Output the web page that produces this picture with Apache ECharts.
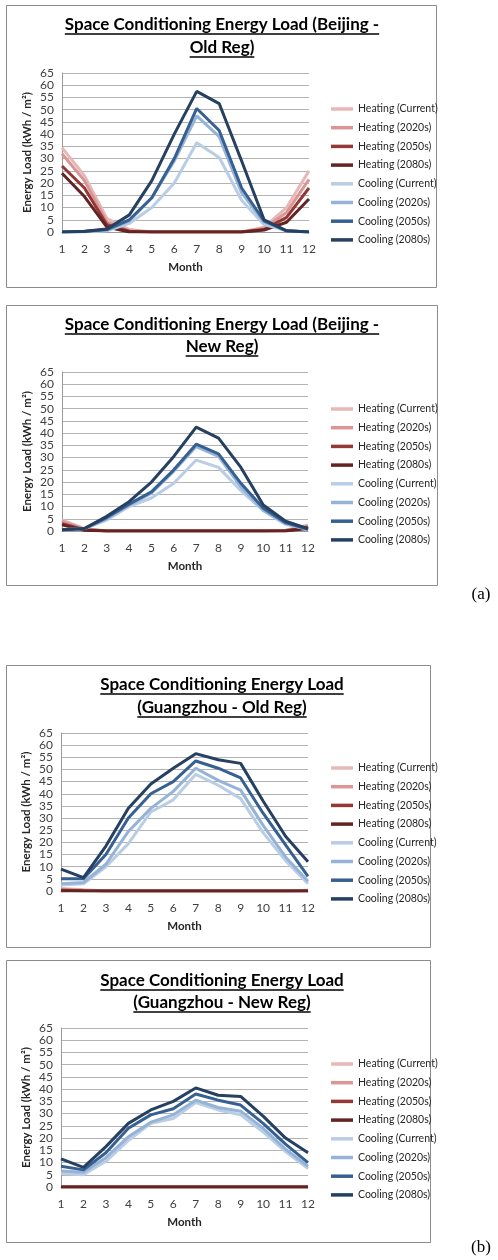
<!DOCTYPE html>
<html>
<head>
<meta charset="UTF-8">
<title>Space Conditioning Energy Load</title>
<script src="https://cdn.jsdelivr.net/npm/echarts@6/dist/echarts.min.js"></script>
<style>
html,body{margin:0;padding:0;background:#fff;}
#main{width:498px;height:1260px;}
</style>
</head>
<body>
<div id="main"></div>
<script>
var months = ['1','2','3','4','5','6','7','8','9','10','11','12'];
var seriesNames = ['Heating (Current)','Heating (2020s)','Heating (2050s)','Heating (2080s)',
                   'Cooling (Current)','Cooling (2020s)','Cooling (2050s)','Cooling (2080s)'];

// Beijing - Old Reg
var bjOldHeatCur  = [34.5, 23, 5.5, 1, 0, 0, 0, 0, 0, 2, 10, 25];
var bjOldHeat2020 = [32, 21, 4, 0.5, 0, 0, 0, 0, 0, 1.5, 8, 21.5];
var bjOldHeat2050 = [27, 18, 3, 0.3, 0, 0, 0, 0, 0, 1, 6, 18];
var bjOldHeat2080 = [24, 14.5, 2, 0, 0, 0, 0, 0, 0, 0.8, 4, 13.5];
var bjOldCoolCur  = [0, 0, 0.5, 3.5, 10, 20, 36.5, 30.5, 13, 3, 0.5, 0];
var bjOldCool2020 = [0, 0.2, 0.8, 4.5, 14, 29, 47.5, 39, 16, 4, 0.5, 0];
var bjOldCool2050 = [0, 0.2, 1, 5, 14, 30, 50.5, 41.5, 18, 4.5, 0.5, 0];
var bjOldCool2080 = [0, 0.3, 1.2, 7, 21, 40, 57.5, 52.5, 29, 5, 0.5, 0];

// Beijing - New Reg
var bjNewHeatCur  = [4.5, 1, 0, 0, 0, 0, 0, 0, 0, 0, 0.3, 2.5];
var bjNewHeat2020 = [4, 0.8, 0, 0, 0, 0, 0, 0, 0, 0, 0.2, 2];
var bjNewHeat2050 = [3, 0.5, 0, 0, 0, 0, 0, 0, 0, 0, 0.1, 1.5];
var bjNewHeat2080 = [2.5, 0.3, 0, 0, 0, 0, 0, 0, 0, 0, 0, 1];
var bjNewCoolCur  = [0.5, 1, 4.5, 10, 13.5, 19.5, 29, 26, 16.5, 8.3, 2.7, 0.7];
var bjNewCool2020 = [0.5, 1, 5, 10.5, 15.5, 24.5, 34.5, 30.5, 18, 8.5, 3, 0.7];
var bjNewCool2050 = [0.5, 1, 5.5, 11, 16, 25, 35.5, 31.5, 19.5, 9.3, 3.4, 0.7];
var bjNewCool2080 = [0.5, 1, 6, 12, 20, 30.5, 42.5, 38, 26, 10.6, 4, 1];

// Guangzhou - Old Reg
var gzOldHeatCur  = [1, 0.5, 0, 0, 0, 0, 0, 0, 0, 0, 0, 0.3];
var gzOldHeat2020 = [0.7, 0.3, 0, 0, 0, 0, 0, 0, 0, 0, 0, 0.2];
var gzOldHeat2050 = [0.3, 0.1, 0, 0, 0, 0, 0, 0, 0, 0, 0, 0];
var gzOldHeat2080 = [0, 0, 0, 0, 0, 0, 0, 0, 0, 0, 0, 0];
var gzOldCoolCur  = [2.5, 3, 10, 19.5, 32.5, 37.5, 48, 43.5, 38, 24, 12.5, 3];
var gzOldCool2020 = [3, 3.5, 11, 24.5, 34, 41, 50.5, 45.5, 41.5, 27, 14, 4];
var gzOldCool2050 = [5, 5, 15, 30, 40, 45, 53.5, 50.5, 46.5, 32, 19, 6];
var gzOldCool2080 = [9, 5.5, 18.5, 34, 44, 50.5, 56.5, 54, 52.5, 37, 22.5, 12];

// Guangzhou - New Reg
var gzNewHeatCur  = [0, 0, 0, 0, 0, 0, 0, 0, 0, 0, 0, 0];
var gzNewHeat2020 = [0, 0, 0, 0, 0, 0, 0, 0, 0, 0, 0, 0];
var gzNewHeat2050 = [0, 0, 0, 0, 0, 0, 0, 0, 0, 0, 0, 0];
var gzNewHeat2080 = [0, 0, 0, 0, 0, 0, 0, 0, 0, 0, 0, 0];
var gzNewCoolCur  = [5.5, 5, 10.5, 19, 26, 28, 34.5, 31.5, 29.5, 22.5, 14.5, 7.5];
var gzNewCool2020 = [6.5, 6, 12, 20.5, 26.5, 29.5, 35.5, 32.5, 31, 24, 15.5, 8.5];
var gzNewCool2050 = [8.5, 7, 14, 24, 29.5, 32, 38, 35.5, 33.5, 26, 17.5, 10];
var gzNewCool2080 = [11.5, 8, 16.5, 26, 31.5, 35, 40.5, 37.5, 37, 29, 20, 14];

var colors = ['#E6B9B8','#D99694','#953735','#632523','#B9CDE5','#95B3D7','#376092','#254061'];

var panels = [
  { lines:['Space Conditioning Energy Load (Beijing -','Old Reg)'], titleY:[25,48],
    box:[6.5,5.5,430,282], grid:{left:62,top:73,width:247,height:159}, legendTop:98,
    data:[bjOldHeatCur,bjOldHeat2020,bjOldHeat2050,bjOldHeat2080,bjOldCoolCur,bjOldCool2020,bjOldCool2050,bjOldCool2080] },
  { lines:['Space Conditioning Energy Load (Beijing -','New Reg)'], titleY:[325,347],
    box:[6.5,305.5,431,280], grid:{left:62,top:372,width:246,height:159}, legendTop:398,
    data:[bjNewHeatCur,bjNewHeat2020,bjNewHeat2050,bjNewHeat2080,bjNewCoolCur,bjNewCool2020,bjNewCool2050,bjNewCool2080] },
  { lines:['Space Conditioning Energy Load','(Guangzhou - Old Reg)'], titleY:[685,708],
    box:[6.5,665.5,424,282], grid:{left:61,top:733,width:247,height:158}, legendTop:757,
    data:[gzOldHeatCur,gzOldHeat2020,gzOldHeat2050,gzOldHeat2080,gzOldCoolCur,gzOldCool2020,gzOldCool2050,gzOldCool2080] },
  { lines:['Space Conditioning Energy Load','(Guangzhou - New Reg)'], titleY:[981,1003],
    box:[6.5,960.5,424,282], grid:{left:61,top:1028,width:247,height:159}, legendTop:1053,
    data:[gzNewHeatCur,gzNewHeat2020,gzNewHeat2050,gzNewHeat2080,gzNewCoolCur,gzNewCool2020,gzNewCool2050,gzNewCool2080] }
];

var titleFont = 'bold 17px Lato';
var ctx = document.createElement('canvas').getContext('2d');
ctx.font = titleFont;

var grids = [], xAxes = [], yAxes = [], series = [], legends = [], graphics = [];

panels.forEach(function(p, i){
  graphics.push({type:'rect', silent:true, z:-10,
    shape:{x:p.box[0], y:p.box[1], width:p.box[2], height:p.box[3]},
    style:{fill:'#fff', stroke:'#8c8c8c', lineWidth:1}});
  p.lines.forEach(function(t, k){
    var w = ctx.measureText(t).width;
    var y = p.titleY[k];
    graphics.push({type:'text', silent:true, x:222, y:y,
      style:{text:t, font:titleFont, fill:'#000', align:'center', verticalAlign:'middle'}});
    graphics.push({type:'line', silent:true,
      shape:{x1:222 - w/2, y1:y + 9, x2:222 + w/2, y2:y + 9},
      style:{stroke:'#000', lineWidth:1.4}});
  });

  grids.push(p.grid);
  xAxes.push({
    type:'category', gridIndex:i, data:months, boundaryGap:false,
    name:'Month', nameLocation:'middle', nameGap:29,
    nameTextStyle:{fontFamily:'Lato', fontWeight:'bold', fontSize:11.5, color:'#262626'},
    axisLine:{lineStyle:{color:'#9a9a9a', width:1}},
    axisTick:{show:false},
    axisLabel:{fontFamily:'Lato', fontSize:12, color:'#404040', margin:11},
    splitLine:{show:false}
  });
  yAxes.push({
    type:'value', gridIndex:i, min:0, max:65, interval:5,
    name:'Energy Load (kWh / m²)', nameLocation:'middle', nameGap:29,
    nameTextStyle:{fontFamily:'Lato', fontWeight:'bold', fontSize:11.5, color:'#262626'},
    axisLine:{show:true, lineStyle:{color:'#9a9a9a', width:1}},
    axisTick:{show:false},
    axisLabel:{fontFamily:'Lato', fontSize:12, color:'#404040', margin:8},
    splitLine:{lineStyle:{color:'#b3b3b3', width:1.2}}
  });
  p.data.forEach(function(d, j){
    series.push({
      name:seriesNames[j], type:'line', xAxisIndex:i, yAxisIndex:i,
      data:d, symbol:'none', smooth:false, silent:true,
      lineStyle:{color:colors[j], width:3}, itemStyle:{color:colors[j]}
    });
  });
  legends.push({
    orient:'vertical', left:326, top:p.legendTop, data:seriesNames,
    icon:'rect', itemWidth:22, itemHeight:3.5, itemGap:6.7, selectedMode:false,
    textStyle:{fontFamily:'Lato', fontSize:10.5, color:'#262626', lineHeight:12}
  });
});

graphics.push({type:'text', silent:true, x:481, y:595,
  style:{text:'(a)', font:'17px "Liberation Serif"', fill:'#000', align:'center', verticalAlign:'middle'}});
graphics.push({type:'text', silent:true, x:481, y:1248,
  style:{text:'(b)', font:'17px "Liberation Serif"', fill:'#000', align:'center', verticalAlign:'middle'}});

var chart = echarts.init(document.getElementById('main'));
chart.setOption({
  animation:false,
  color:colors,
  grid:grids,
  xAxis:xAxes,
  yAxis:yAxes,
  legend:legends,
  series:series,
  graphic:graphics
});
</script>
</body>
</html>
